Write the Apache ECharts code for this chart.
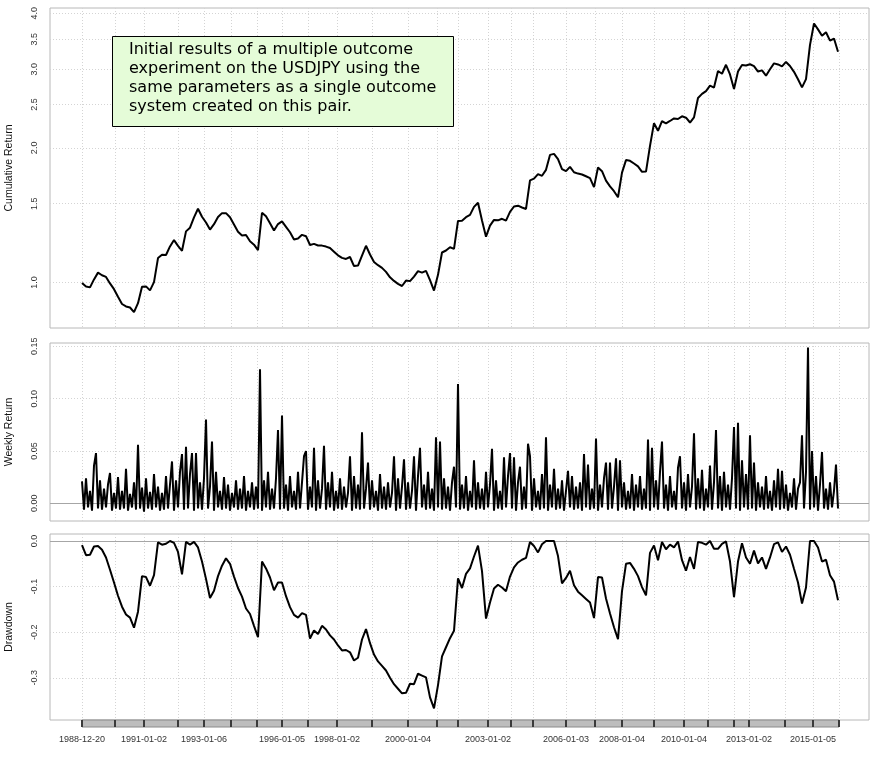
<!DOCTYPE html>
<html><head><meta charset="utf-8">
<script src="https://cdn.jsdelivr.net/npm/echarts@6/dist/echarts.min.js"></script>
<style>html,body{margin:0;padding:0;background:#fff}#c{width:881px;height:760px}</style>
</head><body><div id="c"></div>
<script>
// ---- data ----
// observation axis: cumulative / drawdown sampled every 4 units, weekly returns every 2 units
const CUM_STEP = 4;
const RET_STEP = 2;

const cumulativeReturn = [
0.997,0.979,0.975,1.016,1.052,1.038,1.029,0.995,0.966,0.929,
0.895,0.884,0.879,0.858,0.899,0.978,0.980,0.960,1.002,1.134,
1.153,1.152,1.204,1.244,1.207,1.177,1.301,1.326,1.398,1.462,
1.403,1.362,1.313,1.350,1.401,1.429,1.429,1.399,1.348,1.299,
1.274,1.277,1.236,1.215,1.181,1.432,1.406,1.357,1.307,1.351,
1.370,1.332,1.295,1.248,1.254,1.278,1.269,1.213,1.220,1.210,
1.209,1.203,1.194,1.172,1.150,1.135,1.129,1.140,1.088,1.091,
1.148,1.208,1.155,1.111,1.093,1.078,1.056,1.027,1.008,0.993,
0.982,1.010,1.007,1.031,1.060,1.052,1.062,1.012,0.959,1.040,
1.167,1.179,1.199,1.189,1.373,1.375,1.400,1.416,1.476,1.508,
1.376,1.266,1.340,1.380,1.377,1.388,1.375,1.438,1.479,1.485,
1.471,1.460,1.692,1.707,1.747,1.732,1.786,1.929,1.939,1.888,
1.792,1.774,1.814,1.764,1.752,1.744,1.728,1.712,1.634,1.808,
1.774,1.689,1.640,1.600,1.551,1.761,1.878,1.871,1.845,1.818,
1.768,1.770,2.020,2.271,2.184,2.294,2.270,2.297,2.327,2.321,
2.353,2.336,2.279,2.340,2.586,2.641,2.679,2.755,2.728,2.971,
2.930,3.068,2.919,2.709,2.965,3.065,3.056,3.076,3.047,2.963,
2.981,2.900,2.998,3.090,3.073,3.043,3.113,3.048,2.959,2.847,
2.731,2.850,3.400,3.795,3.682,3.561,3.627,3.474,3.512,3.282];

const drawdown = [
-0.009,-0.031,-0.030,-0.012,-0.011,-0.019,-0.036,-0.063,-0.091,-0.120,
-0.144,-0.161,-0.168,-0.190,-0.155,-0.077,-0.079,-0.098,-0.075,-0.003,
-0.008,-0.006,0,-0.004,-0.024,-0.073,-0.002,-0.008,-0.002,-0.014,
-0.045,-0.083,-0.125,-0.109,-0.077,-0.054,-0.038,-0.050,-0.078,-0.103,
-0.122,-0.148,-0.160,-0.186,-0.211,-0.045,-0.060,-0.080,-0.108,-0.091,
-0.091,-0.121,-0.145,-0.162,-0.168,-0.158,-0.162,-0.214,-0.196,-0.204,
-0.186,-0.194,-0.207,-0.216,-0.229,-0.240,-0.239,-0.244,-0.262,-0.256,
-0.216,-0.193,-0.224,-0.249,-0.264,-0.274,-0.284,-0.300,-0.314,-0.324,
-0.334,-0.333,-0.313,-0.314,-0.291,-0.295,-0.299,-0.343,-0.367,-0.316,
-0.253,-0.233,-0.213,-0.197,-0.082,-0.103,-0.072,-0.060,-0.034,-0.010,
-0.066,-0.170,-0.135,-0.104,-0.096,-0.102,-0.110,-0.078,-0.058,-0.047,
-0.041,-0.037,-0.002,-0.011,-0.025,-0.007,0,0,0,-0.033,
-0.093,-0.081,-0.065,-0.097,-0.111,-0.119,-0.127,-0.135,-0.169,-0.079,
-0.080,-0.126,-0.159,-0.189,-0.215,-0.110,-0.050,-0.048,-0.061,-0.077,
-0.101,-0.119,-0.026,-0.010,-0.042,-0.002,-0.018,-0.008,-0.014,-0.001,
-0.042,-0.065,-0.035,-0.061,-0.002,-0.004,-0.008,0,-0.017,-0.017,
-0.006,-0.001,-0.045,-0.123,-0.045,-0.005,-0.036,-0.050,-0.021,-0.049,
-0.036,-0.061,-0.036,-0.007,-0.003,-0.024,-0.012,-0.030,-0.061,-0.091,
-0.137,-0.102,0,0,-0.014,-0.045,-0.041,-0.075,-0.089,-0.130];

const weeklyReturn = [
0.021,-0.006,0.024,-0.004,0.012,-0.007,0.036,0.048,-0.005,0.022,-0.006,0.014,-0.004,0.018,0.029,-0.007,0.010,-0.005,0.025,-0.006,
0.012,-0.005,0.033,-0.007,0.009,-0.004,0.020,-0.006,0.056,-0.005,0.015,-0.008,0.024,-0.005,0.011,-0.006,0.028,-0.004,0.016,-0.007,
0.010,-0.006,0.026,-0.005,0.018,0.040,-0.007,0.022,-0.004,0.030,0.047,-0.006,0.054,-0.005,0.028,0.048,-0.007,0.048,-0.005,0.020,
-0.006,0.024,0.080,-0.005,0.016,0.059,-0.007,0.030,-0.004,0.012,-0.006,0.025,-0.005,0.018,-0.007,0.010,-0.004,0.022,-0.006,0.014,
-0.005,0.026,-0.007,0.012,-0.004,0.020,-0.006,0.016,-0.005,0.128,-0.007,0.022,-0.004,0.030,-0.006,0.014,-0.005,0.024,0.070,-0.006,
0.084,-0.005,0.018,-0.007,0.026,-0.004,0.012,-0.006,0.030,-0.005,0.020,0.045,0.050,-0.006,0.016,-0.004,0.053,-0.007,0.022,-0.005,
0.014,0.055,-0.006,0.020,-0.004,0.030,-0.007,0.012,-0.005,0.024,-0.006,0.016,-0.004,0.010,0.045,-0.007,0.026,-0.005,0.018,-0.006,
0.068,-0.005,0.014,0.039,-0.006,0.022,-0.004,0.012,-0.007,0.028,-0.005,0.016,-0.006,0.020,-0.004,0.010,0.045,-0.007,0.024,-0.005,
0.016,0.042,-0.006,0.020,-0.005,0.012,0.045,-0.007,0.026,0.053,-0.004,0.018,-0.006,0.030,-0.005,0.014,-0.007,0.063,-0.004,0.059,
-0.006,0.024,-0.005,0.016,-0.007,0.020,0.035,-0.004,0.114,-0.006,0.018,-0.005,0.026,-0.007,0.012,-0.004,0.041,-0.006,0.020,-0.005,
0.014,-0.006,0.030,-0.004,0.018,0.052,-0.007,0.022,-0.005,0.012,-0.006,0.044,-0.004,0.026,0.048,-0.005,0.044,-0.007,0.020,0.035,
-0.006,0.016,-0.005,0.057,0.045,-0.007,0.024,-0.004,0.012,-0.006,0.028,-0.005,0.063,-0.007,0.018,-0.004,0.033,-0.006,0.014,-0.005,
0.022,-0.007,0.012,0.031,-0.004,0.026,-0.006,0.016,-0.005,0.020,-0.007,0.047,-0.004,0.037,-0.006,0.014,-0.005,0.062,-0.007,0.018,
-0.004,0.024,0.039,-0.006,0.039,-0.005,0.016,0.043,-0.007,0.041,-0.004,0.020,-0.006,0.012,-0.005,0.028,-0.007,0.018,-0.004,0.026,
-0.006,0.014,-0.005,0.061,-0.007,0.053,-0.004,0.022,-0.006,0.030,0.059,-0.005,0.018,-0.007,0.026,-0.004,0.012,-0.006,0.034,0.045,
-0.005,0.020,-0.007,0.028,-0.004,0.016,0.067,-0.006,0.024,-0.005,0.032,-0.007,0.014,-0.004,0.036,-0.006,0.020,0.070,-0.005,0.026,
-0.007,0.030,-0.004,0.018,-0.006,0.024,0.073,-0.005,0.077,-0.007,0.041,-0.004,0.028,-0.006,0.065,-0.005,0.039,-0.007,0.020,-0.004,
0.016,-0.006,0.026,-0.005,0.012,-0.007,0.022,-0.004,0.033,-0.006,0.031,-0.005,0.018,-0.007,0.010,-0.004,0.024,-0.006,0.014,0.020,
0.065,-0.005,0.030,0.149,-0.006,0.050,-0.004,0.026,-0.007,0.018,0.049,-0.005,0.014,-0.006,0.020,-0.004,0.012,0.037,-0.005];

// x-axis ticks (observation positions) and date labels
const tickPositions = [0,33,62,96,122,149,175,200,226,255,290,326,355,376,406,429,451,484,513,540,572,602,626,652,667,703,731,757];
const tickLabelPositions = [0,62,122,200,255,326,406,484,540,602,667,731];
const tickLabels = ['1988-12-20','1991-01-02','1993-01-06','1996-01-05','1998-01-02','2000-01-04',
                    '2003-01-02','2006-01-03','2008-01-04','2010-01-04','2013-01-02','2015-01-05'];

// y-axis tick labels
const cumTicks = [1.0,1.5,2.0,2.5,3.0,3.5,4.0];
const retTicks = [0,0.05,0.10,0.15];
const ddTicks = [-0.3,-0.2,-0.1,0];

const noteLines = ['Initial results of a multiple outcome',
                   'experiment on the USDJPY using the',
                   'same parameters as a single outcome',
                   'system created on this pair.'];

// ---- chart ----
const FONT = '"Liberation Sans", Arial, sans-serif';
const OBS_END = 757;
const X_MIN = -32, X_MAX = OBS_END + 30;
const CUM_MIN = 0.791, CUM_MAX = 4.11;
const gridLine = {show:true, lineStyle:{color:'#d4d4d4', type:[1,2], width:1}};
const boxColor = '#b8b8b8';
const hidden = {axisLine:{show:false}, axisTick:{show:false}, axisLabel:{show:false}, splitLine:{show:false}};

function panelX(i){
  return {type:'value', gridIndex:i, min:X_MIN, max:X_MAX,
    axisLine:{show:false}, axisTick:{show:false, customValues:tickPositions},
    axisLabel:{show:false}, splitLine:Object.assign({}, gridLine)};
}
function labelStyle(){ return {fontFamily:FONT, fontSize:9, color:'#333', rotate:90, margin:11}; }
function nameProps(name){
  return {name:name, nameLocation:'middle', nameGap:35, nameMoveOverlap:false,
          nameTextStyle:{fontFamily:FONT, fontSize:10.5, color:'#111'}};
}
const zeroLine = () => ({silent:true, symbol:'none', label:{show:false},
  lineStyle:{color:'#a6a6a6', type:'solid', width:1}, data:[{yAxis:0}]});
function panelGrid(top, height){
  return {left:50, top:top, width:819, height:height, show:true, borderColor:boxColor, borderWidth:1,
          backgroundColor:'transparent', containLabel:false, outerBoundsMode:'none'};
}

const option = {
  animation:false,
  backgroundColor:'#fff',
  grid:[
    panelGrid(8, 320), panelGrid(343, 178), panelGrid(534, 186),
    {left:82, top:720, width:757, height:7, show:true, borderColor:'#8a8a8a', borderWidth:1,
     backgroundColor:'#bdbdbd', containLabel:false, outerBoundsMode:'none'}
  ],
  xAxis:[
    panelX(0), panelX(1), panelX(2),
    {type:'value', gridIndex:3, min:0, max:OBS_END,
      axisLine:{show:false}, axisTick:{show:false, customValues:tickPositions},
      splitLine:{show:true, lineStyle:{color:'#3a3a3a', width:2}},
      axisLabel:{customValues:tickLabelPositions, margin:8, fontFamily:FONT, fontSize:9, color:'#333',
        formatter:v=>{const i=tickLabelPositions.indexOf(Math.round(v)); return i>=0?tickLabels[i]:'';}}}
  ],
  yAxis:[
    Object.assign({type:'log', gridIndex:0, position:'left', logBase:10, min:CUM_MIN, max:CUM_MAX}, hidden),
    Object.assign({type:'value', gridIndex:0, position:'left', offset:0, min:Math.log(CUM_MIN), max:Math.log(CUM_MAX),
      axisLine:{show:false}, axisTick:{show:false, customValues:cumTicks.map(Math.log)},
      axisLabel:Object.assign(labelStyle(), {customValues:cumTicks.map(Math.log), formatter:v=>Math.exp(v).toFixed(1)}),
      splitLine:gridLine}, nameProps('Cumulative Return')),
    Object.assign({type:'value', gridIndex:1, min:-0.0169, max:0.1532,
      axisLine:{show:false}, axisTick:{show:false, customValues:retTicks},
      axisLabel:Object.assign(labelStyle(), {customValues:retTicks, formatter:v=>v.toFixed(2)}),
      splitLine:gridLine}, nameProps('Weekly Return')),
    Object.assign({type:'value', gridIndex:2, min:-0.3925, max:0.0154,
      axisLine:{show:false}, axisTick:{show:false, customValues:ddTicks},
      axisLabel:Object.assign(labelStyle(), {customValues:ddTicks, formatter:v=>v.toFixed(1)}),
      splitLine:gridLine}, nameProps('Drawdown')),
    Object.assign({type:'value', gridIndex:3, min:0, max:1}, hidden)
  ],
  series:[
    {type:'line', xAxisIndex:0, yAxisIndex:0, showSymbol:false, silent:true,
      data:cumulativeReturn.map((v,i)=>[i*CUM_STEP, v]),
      lineStyle:{color:'#000', width:2}, z:5},
    {type:'line', xAxisIndex:1, yAxisIndex:2, showSymbol:false, silent:true,
      data:weeklyReturn.map((v,i)=>[i*RET_STEP, v]),
      lineStyle:{color:'#000', width:2}, markLine:zeroLine(), z:5},
    {type:'line', xAxisIndex:2, yAxisIndex:3, showSymbol:false, silent:true,
      data:drawdown.map((v,i)=>[i*CUM_STEP, v]),
      lineStyle:{color:'#000', width:2}, markLine:zeroLine(), z:5}
  ],
  graphic:[
    {type:'rect', left:112, top:36, z:100, shape:{width:341, height:90},
      style:{fill:'#e5fcd8', stroke:'#000', lineWidth:1}},
    {type:'text', left:129, top:40, z:101,
      style:{text:noteLines.join('\n'), font:'16px "DejaVu Sans", sans-serif', lineHeight:19, fill:'#000'}}
  ]
};

const chart = echarts.init(document.getElementById('c'), null, {renderer:'canvas'});
chart.setOption(option);
</script>
</body></html>
